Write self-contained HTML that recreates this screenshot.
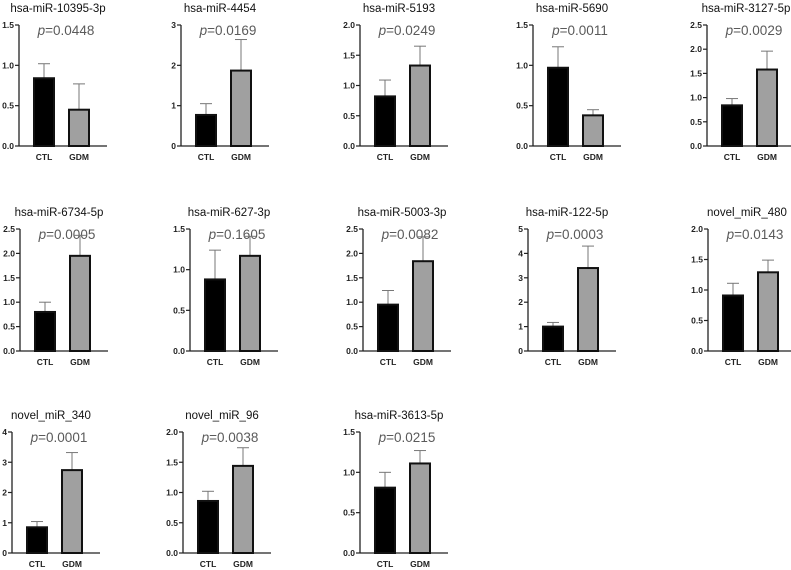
<!DOCTYPE html>
<html><head><meta charset="utf-8"><style>
html,body{margin:0;padding:0;background:#fff;}
svg{display:block;font-family:"Liberation Sans",Arial,sans-serif;}
</style></head><body>
<svg id="c" width="791" height="570"></svg>
<script>
const titles=["hsa-miR-10395-3p","hsa-miR-4454","hsa-miR-5193","hsa-miR-5690","hsa-miR-3127-5p","hsa-miR-6734-5p","hsa-miR-627-3p","hsa-miR-5003-3p","hsa-miR-122-5p","novel_miR_480","novel_miR_340","novel_miR_96","hsa-miR-3613-5p"];
const pvals=["0.0448","0.0169","0.0249","0.0011","0.0029","0.0005","0.1605","0.0082","0.0003","0.0143","0.0001","0.0038","0.0215"];
const ymax=[1.5,3,2,1.5,2.5,2.5,1.5,2.5,5,2,4,2,1.5];
const ystep=[0.5,1,0.5,0.5,0.5,0.5,0.5,0.5,1,0.5,1,0.5,0.5];
const ctlMean=[0.84,0.77,0.82,0.97,0.84,0.80,0.88,0.95,1.0,0.91,0.85,0.86,0.81];
const ctlErr=[1.02,1.05,1.09,1.23,0.98,1.0,1.24,1.24,1.17,1.11,1.04,1.02,1.0];
const gdmMean=[0.45,1.87,1.33,0.38,1.58,1.95,1.17,1.84,3.4,1.29,2.74,1.44,1.11];
const gdmErr=[0.77,2.64,1.65,0.45,1.96,2.37,1.41,2.34,4.3,1.49,3.32,1.74,1.27];
const groups=["CTL","GDM"];
const axX=[19,181,360,533,707,20,190,363,528,708,12,183,360];
const rowTop=[25,229,432];
const rowBot=[146,351,553];
const NS="http://www.w3.org/2000/svg";
const svg=document.getElementById('c');
function mk(t,a,p){const e=document.createElementNS(NS,t);for(const k in a)e.setAttribute(k,a[k]);(p||svg).appendChild(e);return e;}
titles.forEach((t,i)=>{
  const r=Math.floor(i/5), ax=axX[i], top=rowTop[r], bot=rowBot[r];
  const y=v=>bot-(v/ymax[i])*(bot-top);
  const g=mk('g',{});
  
  
  const tt=mk('text',{x:ax+39,y:top-13,'text-anchor':'middle','font-size':11.5,fill:'#111'},g);tt.textContent=t;
  
  const pt=mk('text',{x:ax+47,y:top+10,'text-anchor':'middle','font-size':13.5,fill:'#5a5a5a'},g);
  
  const it=mk('tspan',{'font-style':'italic'},pt);it.textContent='p';
  const nt=mk('tspan',{},pt);nt.textContent='='+pvals[i];
  const ya=mk('line',{x1:ax,y1:top,x2:ax,y2:bot,stroke:'#222','stroke-width':1.3},g);
  
  const xa=mk('line',{x1:ax,y1:bot,x2:ax+88,y2:bot,stroke:'#222','stroke-width':1.3},g);
  
  const dec=ystep[i]<1;
  for(let v=0;v<=ymax[i]+1e-9;v+=ystep[i]){
    mk('line',{x1:ax-4,y1:y(v),x2:ax,y2:y(v),stroke:'#222','stroke-width':1.2},g);
    const tl=mk('text',{x:ax-5,y:y(v)+3,'text-anchor':'end','font-size':8.5,'font-weight':'bold',fill:'#222'},g);
    tl.textContent=dec?v.toFixed(1):String(Math.round(v));
    
  }
  const means=[ctlMean[i],gdmMean[i]], errs=[ctlErr[i],gdmErr[i]], cx=[ax+25,ax+60];
  groups.forEach((gn,j)=>{
    const c=cx[j];
    mk('line',{x1:c,y1:y(means[j]),x2:c,y2:y(errs[j]),stroke:'#777','stroke-width':1},g);
    mk('line',{x1:c-6,y1:y(errs[j]),x2:c+6,y2:y(errs[j]),stroke:'#777','stroke-width':1},g);
    const b=mk('rect',{x:c-10,y:y(means[j]),width:20,height:bot-y(means[j]),fill:j?'#a0a0a0':'#000',stroke:'#111','stroke-width':2},g);
    
    const xl=mk('text',{x:c,y:bot+14,'text-anchor':'middle','font-size':8.5,'font-weight':'bold',fill:'#222'},g);
    xl.textContent=gn;
    
  });
});
</script>
</body></html>
